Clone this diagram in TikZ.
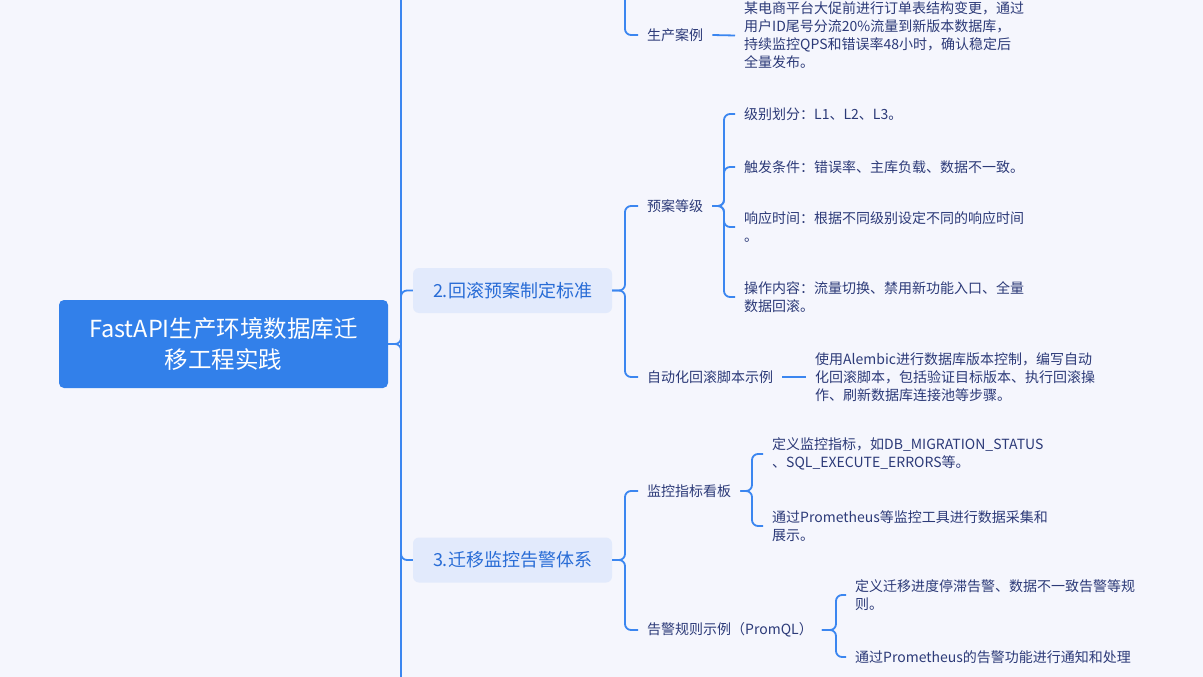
\documentclass[tikz,border=0pt]{standalone}
\usepackage{fontspec}
\setmainfont{Noto Sans CJK SC}
\definecolor{bg}{RGB}{245,246,253}
\definecolor{linec}{RGB}{59,134,240}
\definecolor{rootc}{RGB}{50,128,234}
\definecolor{boxc}{RGB}{226,234,252}
\definecolor{boxtext}{RGB}{40,108,214}
\definecolor{leaftext}{RGB}{44,58,120}
\begin{document}
\begin{tikzpicture}[x=1pt,y=-1pt,
  conn/.style={draw=linec, line width=1.8pt, rounded corners=6pt},
  rootbox/.style={fill=rootc, rounded corners=5pt, text=white, minimum width=329pt, minimum height=88pt, align=center, font=\fontsize{23.5}{31}\selectfont, inner sep=0pt},
  mainbox/.style={fill=boxc, rounded corners=6pt, text=boxtext, minimum width=199pt, minimum height=45pt, font=\fontsize{18}{22}\selectfont, inner sep=0pt},
  sub/.style={anchor=west, text=leaftext, inner xsep=9pt, inner ysep=2pt, font=\fontsize{14}{18}\selectfont},
  leaf/.style={sub, align=left},
]
\useasboundingbox (0,0) rectangle (1203,677);
\fill[bg] (0,0) rectangle (1203,677);
\clip (0,0) rectangle (1203,677);

% junction coordinates
\coordinate (trunkTop) at (401,-20);
\coordinate (trunkBot) at (401,700);
\coordinate (topB1) at (625,-20);
\coordinate (jB2) at (625,0);
\coordinate (jB3) at (625,0);
\coordinate (jL) at (724,0);
\coordinate (jD) at (752,0);
\coordinate (jR) at (836,0);

% nodes
\node[rootbox] (root) at (223.5,344) {FastAPI生产环境数据库迁\\移工程实践};
\node[mainbox] (b2) at (512.5,290.5) {2.回滚预案制定标准};
\node[mainbox] (b3) at (512.5,560) {3.迁移监控告警体系};

\node[sub] (case) at (638,35) {生产案例};
\node[leaf] (caseT) at (735,35.5) {某电商平台大促前进行订单表结构变更，通过\\用户ID尾号分流20\%流量到新版本数据库，\\持续监控QPS和错误率48小时，确认稳定后\\全量发布。};

\node[sub] (lvl) at (638,206) {预案等级};
\node[leaf] (a1) at (735,114) {级别划分：L1、L2、L3。};
\node[leaf] (a2) at (735,167) {触发条件：错误率、主库负载、数据不一致。};
\node[leaf] (a3) at (735,227) {响应时间：根据不同级别设定不同的响应时间\\。};
\node[leaf] (a4) at (735,297) {操作内容：流量切换、禁用新功能入口、全量\\数据回滚。};

\node[sub] (auto) at (638,377) {自动化回滚脚本示例};
\node[leaf] (autoT) at (806,377) {使用Alembic进行数据库版本控制，编写自动\\化回滚脚本，包括验证目标版本、执行回滚操\\作、刷新数据库连接池等步骤。};

\node[sub] (dash) at (638,491) {监控指标看板};
\node[leaf] (d1) at (763,454) {定义监控指标，如DB\_MIGRATION\_STATUS\\、SQL\_EXECUTE\_ERRORS等。};
\node[leaf] (d2) at (763,526) {通过Prometheus等监控工具进行数据采集和\\展示。};

\node[sub] (rule) at (638,630) {告警规则示例（PromQL）};
\node[leaf] (r1) at (846,595) {定义迁移进度停滞告警、数据不一致告警等规\\则。};
\node[leaf] (r2) at (846,657) {通过Prometheus的告警功能进行通知和处理};

% connectors
\draw[conn] (trunkTop) -- (trunkBot);
\draw[conn] (root.east) -- (root.east -| trunkTop) |- (b2.west);
\draw[conn] (root.east) -- (root.east -| trunkTop) |- (b3.west);

\draw[conn] (topB1) |- (case.west);
\draw[conn] (case.east) -- (caseT.west);

\draw[conn] (b2.east) -- (b2.east -| jB2) |- (lvl.west);
\draw[conn] (b2.east) -- (b2.east -| jB2) |- (auto.west);
\draw[conn] (lvl.east) -- (lvl.east -| jL) |- (a1.west);
\draw[conn] (lvl.east) -- (lvl.east -| jL) |- (a2.west);
\draw[conn] (lvl.east) -- (lvl.east -| jL) |- (a3.west);
\draw[conn] (lvl.east) -- (lvl.east -| jL) |- (a4.west);
\draw[conn] (auto.east) -- (autoT.west);

\draw[conn] (b3.east) -- (b3.east -| jB3) |- (dash.west);
\draw[conn] (b3.east) -- (b3.east -| jB3) |- (rule.west);
\draw[conn] (dash.east) -- (dash.east -| jD) |- (d1.west);
\draw[conn] (dash.east) -- (dash.east -| jD) |- (d2.west);
\draw[conn] (rule.east) -- (rule.east -| jR) |- (r1.west);
\draw[conn] (rule.east) -- (rule.east -| jR) |- (r2.west);
\end{tikzpicture}
\end{document}
